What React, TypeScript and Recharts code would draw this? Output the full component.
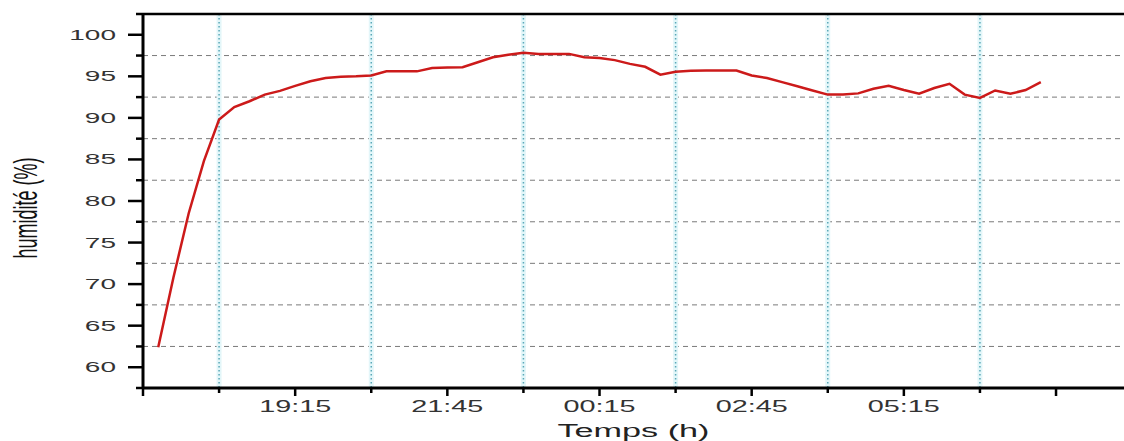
import { LineChart, Line, XAxis, YAxis, CartesianGrid, ReferenceLine, Label } from "recharts"

// readings every 15 min, from 17:00 to 07:30 next morning
const sampleTimes = [
  "17:00", "17:15", "17:30", "17:45", "18:00", "18:15", "18:30", "18:45",
  "19:00", "19:15", "19:30", "19:45", "20:00", "20:15", "20:30", "20:45",
  "21:00", "21:15", "21:30", "21:45", "22:00", "22:15", "22:30", "22:45",
  "23:00", "23:15", "23:30", "23:45", "00:00", "00:15", "00:30", "00:45",
  "01:00", "01:15", "01:30", "01:45", "02:00", "02:15", "02:30", "02:45",
  "03:00", "03:15", "03:30", "03:45", "04:00", "04:15", "04:30", "04:45",
  "05:00", "05:15", "05:30", "05:45", "06:00", "06:15", "06:30", "06:45",
  "07:00", "07:15", "07:30",
]

const humidity = [
  62.4, 70.8, 78.5, 84.8, 89.8, 91.3, 92.0, 92.8,
  93.25, 93.85, 94.4, 94.8, 94.95, 95.0, 95.1, 95.6,
  95.6, 95.6, 96.0, 96.05, 96.1, 96.7, 97.3, 97.6,
  97.85, 97.7, 97.7, 97.7, 97.3, 97.2, 96.95, 96.5,
  96.15, 95.2, 95.55, 95.67, 95.7, 95.7, 95.7, 95.1,
  94.8, 94.3, 93.8, 93.3, 92.8, 92.8, 92.95, 93.5,
  93.85, 93.35, 92.9, 93.6, 94.1, 92.8, 92.4, 93.3,
  92.9, 93.35, 94.3,
]

// x ticks alternate major / minor, every 75 min
const xTickTimes = [
  "16:45", "18:00", "19:15", "20:30", "21:45", "23:00", "00:15",
  "01:30", "02:45", "04:00", "05:15", "06:30", "07:45",
]
const xTickLabels = ["", "19:15", "21:45", "00:15", "02:45", "05:15", ""]

const yTicks = [
  57.5, 60, 62.5, 65, 67.5, 70, 72.5, 75, 77.5, 80, 82.5, 85, 87.5, 90, 92.5, 95, 97.5, 100, 102.5,
]

const origin = 16 * 60 + 45
const toMinutes = (t: string) => {
  const [h, m] = t.split(":").map(Number)
  return (h < 12 ? h + 24 : h) * 60 + m - origin
}

const data = sampleTimes.map((t, i) => ({ t: toMinutes(t), humidity: humidity[i] }))
const xTickValues = xTickTimes.map(toMinutes)
const xMinor = xTickValues.filter((_, i) => i % 2 === 1)
const yMinor = yTicks.filter((v) => v % 5 !== 0 && v > 58 && v < 102)

const font = "'Liberation Sans', Arial, sans-serif"

function XTick(props: any) {
  const { x, y, payload } = props
  const i = xTickValues.indexOf(payload.value)
  const major = i % 2 === 0
  const label = major ? xTickLabels[i / 2] : ""
  return (
    <g>
      <line x1={x} x2={x} y1={y} y2={y + (major ? 8 : 5)} stroke="#000" strokeWidth={2.5} />
      {label && (
        <text transform={`translate(${x},${y + 24}) scale(1.8,1)`} textAnchor="middle" fontSize={16} fill="#333" fontFamily={font}>
          {label}
        </text>
      )}
    </g>
  )
}

function YTick(props: any) {
  const { x, y, payload } = props
  const major = payload.value % 5 === 0
  return (
    <g>
      <line x1={x - (major ? 15 : 7)} x2={x} y1={y} y2={y} stroke="#000" strokeWidth={2.5} />
      {major && (
        <text transform={`translate(${x - 27},${y + 5}) scale(2,1)`} textAnchor="end" fontSize={14} fill="#333" fontFamily={font}>
          {payload.value}
        </text>
      )}
    </g>
  )
}

export default function App() {
  return (
    <div style={{ position: "absolute", left: 0, top: 0, width: 1124, height: 441, background: "#fff" }}>
      <LineChart width={1124} height={441} data={data} margin={{ top: 14, right: 0, bottom: 0, left: 0 }}>
        <CartesianGrid vertical={false} horizontalValues={yMinor} stroke="#7a7a7a" strokeDasharray="5 4" />
        <CartesianGrid horizontal={false} verticalValues={xMinor} stroke="#e3f6f9" strokeWidth={5} />
        <CartesianGrid horizontal={false} verticalValues={xMinor} stroke="#5aa8b8" strokeWidth={1.5} strokeDasharray="1.5 2.5" />
        <XAxis
          dataKey="t"
          type="number"
          domain={[0, 967]}
          allowDataOverflow
          ticks={xTickValues}
          interval={0}
          height={53}
          tickSize={0}
          tickMargin={0}
          tick={<XTick />}
          axisLine={{ stroke: "#000", strokeWidth: 3 }}
        >
          <Label
            content={(p: any) => {
              const vb = p.viewBox
              return (
                <text
                  transform={`translate(${vb.x + vb.width / 2},${vb.y + 49}) scale(1.8,1)`}
                  textAnchor="middle"
                  fontSize={19}
                  fill="#222"
                  fontFamily={font}
                >
                  Temps (h)
                </text>
              )
            }}
          />
        </XAxis>
        <YAxis
          type="number"
          domain={[57.5, 102.5]}
          ticks={yTicks}
          interval={0}
          width={143}
          tickSize={0}
          tickMargin={0}
          tick={<YTick />}
          axisLine={{ stroke: "#000", strokeWidth: 3 }}
        >
          <Label
            content={(p: any) => {
              const vb = p.viewBox
              return (
                <text
                  transform={`translate(37,${vb.y + vb.height / 2 + 7}) rotate(-90) scale(1,1.8)`}
                  textAnchor="middle"
                  fontSize={18}
                  fill="#111"
                  fontFamily={font}
                >
                  humidité (%)
                </text>
              )
            }}
          />
        </YAxis>
        <ReferenceLine y={102.5} stroke="#000" strokeWidth={2.5} />
        <Line type="linear" dataKey="humidity" stroke="#cc1a1a" strokeWidth={2.5} dot={false} isAnimationActive={false} />
      </LineChart>
    </div>
  )
}
